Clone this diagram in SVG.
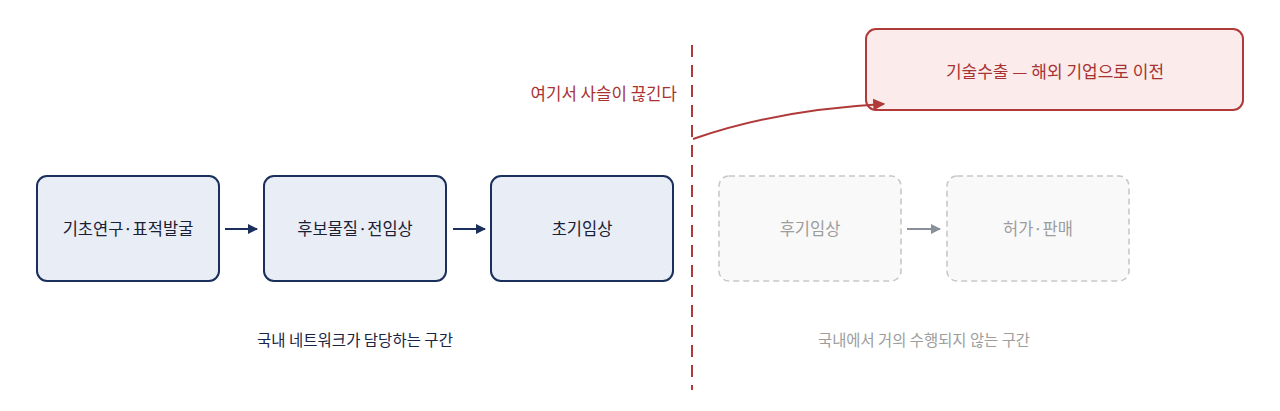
<svg xmlns="http://www.w3.org/2000/svg" width="1280" height="411" viewBox="0 0 1280 411">
<style>
text{font-family:"Noto Sans CJK KR","Noto Sans",sans-serif;text-anchor:middle;dominant-baseline:central}
.n rect{fill:#e8edf6;stroke:#1b2f5c;stroke-width:2}
.n text{fill:#1a2033;font-size:16.5px}
.g rect{fill:#f9f9f9;stroke:#c8c8c8;stroke-width:1.6;stroke-dasharray:6 4}
.g text{fill:#9d9d9d;font-size:16.5px}
.r rect{fill:#fbebea;stroke:#b03a3a;stroke-width:2}
.r text{fill:#a83232;font-size:17px}
</style>
<defs>
<marker id="an" viewBox="0 0 10 10" refX="9" refY="5" markerWidth="10" markerHeight="10" markerUnits="userSpaceOnUse" orient="auto"><path d="M0,0 L10,5 L0,10 z" fill="#1b2f5c"/></marker>
<marker id="ag" viewBox="0 0 10 10" refX="9" refY="5" markerWidth="10" markerHeight="10" markerUnits="userSpaceOnUse" orient="auto"><path d="M0,0 L10,5 L0,10 z" fill="#8a9099"/></marker>
<marker id="ar" viewBox="0 0 10 10" refX="9" refY="5" markerWidth="12" markerHeight="12" markerUnits="userSpaceOnUse" orient="auto"><path d="M0,0 L10,5 L0,10 z" fill="#b03a3a"/></marker>
</defs>
<line x1="692" y1="45" x2="692" y2="390" stroke="#b03a3a" stroke-width="2" stroke-dasharray="12 8"/>
<text x="677" y="93" style="text-anchor:end;fill:#a83232;font-size:16.8px">여기서 사슬이 끊긴다</text>
<g id="n1" class="n"><rect x="37" y="176" width="182" height="105" rx="10"/><text x="128" y="228">기초연구·표적발굴</text></g>
<g id="n2" class="n"><rect x="264" y="176" width="182" height="105" rx="10"/><text x="355" y="228">후보물질·전임상</text></g>
<g id="n3" class="n"><rect x="491" y="176" width="182" height="105" rx="10"/><text x="582" y="228">초기임상</text></g>
<g id="n4" class="g"><rect x="719" y="176" width="182" height="105" rx="10"/><text x="810" y="228">후기임상</text></g>
<g id="n5" class="g"><rect x="947" y="176" width="182" height="105" rx="10"/><text x="1038" y="228">허가·판매</text></g>
<g id="n6" class="r"><rect x="866" y="29" width="377" height="81" rx="10"/><text x="1055" y="70">기술수출 — 해외 기업으로 이전</text></g>
<g id="connectors" fill="none" stroke-width="2">
<line x1="225" y1="229" x2="257" y2="229" stroke="#1b2f5c" marker-end="url(#an)"/>
<line x1="453" y1="229" x2="485" y2="229" stroke="#1b2f5c" marker-end="url(#an)"/>
<line x1="907" y1="229" x2="940" y2="229" stroke="#8a9099" marker-end="url(#ag)"/>
<path d="M693 139 Q775 110 884 104" stroke="#b03a3a" marker-end="url(#ar)"/>
</g>
<text x="355" y="339" style="fill:#1a2545;font-size:15.5px">국내 네트워크가 담당하는 구간</text>
<text x="924" y="339" style="fill:#9d9d9d;font-size:15.4px">국내에서 거의 수행되지 않는 구간</text>
</svg>
